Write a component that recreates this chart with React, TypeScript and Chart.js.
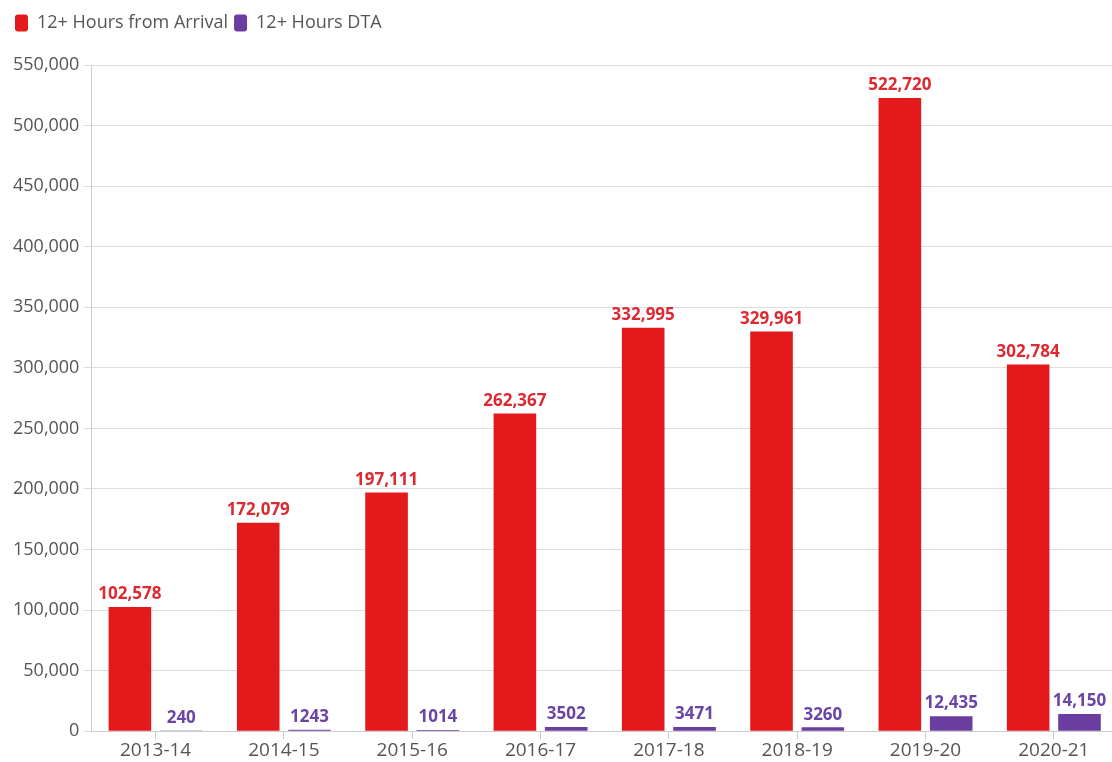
import React, { useEffect, useRef } from "react";
import { Chart, registerables } from "chart.js";

Chart.register(...registerables);

const categories = ["2013-14", "2014-15", "2015-16", "2016-17", "2017-18", "2018-19", "2019-20", "2020-21"];
const arrivalValues = [102578, 172079, 197111, 262367, 332995, 329961, 522720, 302784];
const dtaValues = [240, 1243, 1014, 3502, 3471, 3260, 12435, 14150];
const seriesNames = ["12+ Hours from Arrival", "12+ Hours DTA"];
const seriesColors = ["#e3191c", "#6b3da0"];
const labelColors = ["#dc2a32", "#6a45a6"];

const FONT = "'Open Sans', sans-serif";

function fmt(v: number): string {
  if (v < 10000) return String(v);
  return v.toLocaleString("en-US");
}

const valueLabels = {
  id: "valueLabels",
  afterDatasetsDraw(chart: any) {
    const ctx = chart.ctx;
    ctx.save();
    ctx.font = `bold 17px ${FONT}`;
    ctx.textAlign = "center";
    ctx.textBaseline = "bottom";
    chart.data.datasets.forEach((ds: any, di: number) => {
      const meta = chart.getDatasetMeta(di);
      ctx.fillStyle = labelColors[di];
      meta.data.forEach((el: any, i: number) => {
        ctx.fillText(fmt(ds.data[i]), el.x, el.y - 4);
      });
    });
    ctx.restore();
  },
};

const legendSpacing = {
  id: "legendSpacing",
  beforeInit(chart: any) {
    const legend = chart.legend;
    if (!legend) return;
    const orig = legend.fit;
    legend.fit = function () {
      orig.bind(legend)();
      this.height += 23;
    };
  },
};

export default function App() {
  const ref = useRef<HTMLCanvasElement | null>(null);
  useEffect(() => {
    document.body.style.margin = "0";
    document.body.style.overflow = "hidden";
    const chart = new Chart(ref.current!, {
      type: "bar",
      data: {
        labels: categories,
        datasets: [
          { label: seriesNames[0], data: arrivalValues, backgroundColor: seriesColors[0], borderWidth: 0 },
          { label: seriesNames[1], data: dtaValues, backgroundColor: seriesColors[1], borderWidth: 0 },
        ],
      },
      options: {
        animation: false,
        responsive: false,
        maintainAspectRatio: false,
        layout: { padding: { left: 9, right: 0, top: 8, bottom: 0 } },
        datasets: { bar: { categoryPercentage: 0.8, barPercentage: 0.83 } },
        plugins: {
          tooltip: { enabled: false },
          legend: {
            position: "top",
            align: "start",
            labels: {
              font: { family: FONT, size: 18 },
              color: "#555",
              boxWidth: 13,
              boxHeight: 17,
              useBorderRadius: true,
              borderRadius: 3,
              padding: 6,
            },
          },
        },
        scales: {
          x: {
            grid: { display: true, drawOnChartArea: false, drawTicks: true, tickLength: 8, offset: false, color: "#ccc" },
            border: { color: "#ccc" },
            ticks: { font: { family: FONT, size: 19 }, color: "#555", padding: 0 },
          },
          y: {
            min: 0,
            max: 550000,
            grid: { color: "#ddd", tickLength: 8 },
            border: { color: "#ccc" },
            ticks: {
              stepSize: 50000,
              font: { family: FONT, size: 18 },
              color: "#555",
              padding: 4,
              callback: (v: any) => Number(v).toLocaleString("en-US"),
            },
          },
        },
      },
      plugins: [valueLabels, legendSpacing],
    });
    return () => chart.destroy();
  }, []);
  return (
    <div style={{ width: 1112, height: 762, overflow: "hidden" }}>
      <canvas ref={ref} width={1118} height={762} style={{ display: "block" }} />
    </div>
  );
}
